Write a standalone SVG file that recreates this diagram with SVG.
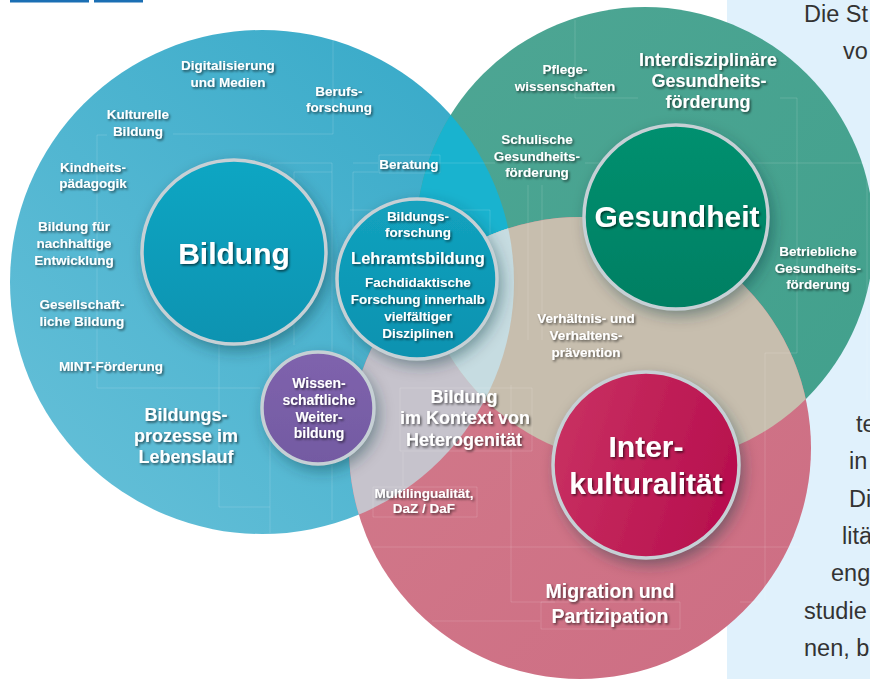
<svg xmlns="http://www.w3.org/2000/svg" width="870" height="679" viewBox="0 0 870 679">
<defs>
<style>
.t{font-family:"Liberation Sans",Arial,sans-serif;font-weight:bold;fill:#fff;text-anchor:middle;filter:url(#ts)}
.s{font-size:13.5px}
.m{font-size:18px}
.b{font-size:30px}
.p{font-family:"Liberation Sans",Arial,sans-serif;font-size:23.5px;fill:#333}
.ln{fill:none;stroke:#fff;stroke-opacity:.14;stroke-width:1}
.ring{stroke:#c6d0d5;stroke-width:3.5}
</style>
<filter id="ts" x="-10%" y="-40%" width="130%" height="190%">
<feDropShadow dx="1.4" dy="1.6" stdDeviation="1.1" flood-color="#000" flood-opacity="0.6"/>
</filter>
<filter id="cs" x="-40%" y="-40%" width="180%" height="180%">
<feDropShadow dx="4" dy="6" stdDeviation="8" flood-color="#10303a" flood-opacity="0.45"/>
</filter>
<linearGradient id="gBlue" x1="0" y1="1" x2="1" y2="0">
<stop offset="0" stop-color="#68c1d9"/><stop offset="1" stop-color="#34a8c7"/>
</linearGradient>
<linearGradient id="gGreen" x1="0" y1="0" x2="1" y2="1">
<stop offset="0" stop-color="#4ea694"/><stop offset="1" stop-color="#41a08c"/>
</linearGradient>
<linearGradient id="gPink" x1="0" y1="0" x2="1" y2="1">
<stop offset="0" stop-color="#d27b8b"/><stop offset="1" stop-color="#cd6d83"/>
</linearGradient>
<linearGradient id="gBil" x1="0" y1="0" x2="0" y2="1">
<stop offset="0" stop-color="#07a6c3"/><stop offset="1" stop-color="#0a93b1"/>
</linearGradient>
<linearGradient id="gLeh" x1="0" y1="0" x2="0" y2="1">
<stop offset="0" stop-color="#13a2be"/><stop offset="1" stop-color="#0a92b0"/>
</linearGradient>
<linearGradient id="gGes" x1="0" y1="0" x2="0" y2="1">
<stop offset="0" stop-color="#00906f"/><stop offset="1" stop-color="#007f63"/>
</linearGradient>
<linearGradient id="gInt" x1="0" y1="0" x2="1" y2="0.3">
<stop offset="0" stop-color="#ca3463"/><stop offset="1" stop-color="#b8114f"/>
</linearGradient>
<linearGradient id="gPur" x1="0" y1="0" x2="0" y2="1">
<stop offset="0" stop-color="#7f63ad"/><stop offset="1" stop-color="#735aa2"/>
</linearGradient>
<clipPath id="cBlue"><circle cx="262" cy="282" r="252"/></clipPath>
<clipPath id="cGreen"><circle cx="645" cy="236" r="229"/></clipPath>
</defs>

<rect x="727" y="0" width="143" height="679" fill="#e0f1fc"/>
<rect x="10" y="0" width="79" height="2.5" fill="#1b6fb4"/>
<rect x="94" y="0" width="49" height="2.5" fill="#1b6fb4"/>

<g id="areas">
<circle cx="262" cy="282" r="252" fill="url(#gBlue)"/>
<circle cx="645" cy="236" r="229" fill="url(#gGreen)"/>
<circle cx="580" cy="448" r="231" fill="url(#gPink)"/>
<circle cx="645" cy="236" r="229" fill="#19b3cf" clip-path="url(#cBlue)"/>
<circle cx="580" cy="448" r="231" fill="#c6c3cc" clip-path="url(#cBlue)"/>
<circle cx="580" cy="448" r="231" fill="#c7beae" clip-path="url(#cGreen)"/>
<g clip-path="url(#cBlue)"><circle cx="580" cy="448" r="231" fill="#c6dce1" clip-path="url(#cGreen)"/></g>
</g>

<g id="guides">
<path class="ln" d="M333 40V134H173M107 135H97V388H260M270 163H332M353 163H378M294 172H332M353 172H378M270 163V533M294 172V345M332 163V520M353 172V363M350 210H490V240M219 340V507H270M379 155H440V173H379Z"/>
<path class="ln" d="M575 20V98H638M780 98H797V353H765V600M740 547H800M740 602H760M435 163H495M585 163H867V400M528 185V340M542 185V340"/>
<path class="ln" d="M373 547H740M511 385V602H555M432 621H540M373 487H477V517H373ZM400 388H532V451H400ZM403 452V486M541 602H680V629H541Z"/>
</g>

<g id="node-bildung">
<circle cx="234" cy="252" r="92" fill="url(#gBil)" filter="url(#cs)"/>
<circle cx="234" cy="252" r="92" fill="none" class="ring"/>
<text class="t b" x="234" y="264">Bildung</text>
</g>

<g id="node-lehramt">
<circle cx="417" cy="279" r="80" fill="url(#gLeh)" filter="url(#cs)"/>
<circle cx="417" cy="279" r="80" fill="none" class="ring"/>
<text class="t s" x="418" y="221">Bildungs-</text>
<text class="t s" x="418" y="237">forschung</text>
<text class="t" x="418" y="264" style="font-size:16.5px">Lehramtsbildung</text>
<text class="t s" x="418" y="287">Fachdidaktische</text>
<text class="t s" x="418" y="304">Forschung innerhalb</text>
<text class="t s" x="418" y="321">vielfältiger</text>
<text class="t s" x="418" y="338">Disziplinen</text>
</g>

<g id="node-weiterbildung">
<circle cx="318" cy="408" r="56" fill="url(#gPur)" filter="url(#cs)"/>
<circle cx="318" cy="408" r="56" fill="none" class="ring"/>
<text class="t" style="font-size:14px" x="319" y="388">Wissen-</text>
<text class="t" style="font-size:14px" x="319" y="405">schaftliche</text>
<text class="t" style="font-size:14px" x="319" y="422">Weiter-</text>
<text class="t" style="font-size:14px" x="319" y="438">bildung</text>
</g>

<g id="node-gesundheit">
<circle cx="676" cy="217" r="92" fill="url(#gGes)" filter="url(#cs)"/>
<circle cx="676" cy="217" r="92" fill="none" class="ring"/>
<text class="t b" x="677" y="227">Gesundheit</text>
</g>

<g id="node-interkulturalitaet">
<circle cx="646" cy="465" r="93" fill="url(#gInt)" filter="url(#cs)"/>
<circle cx="646" cy="465" r="93" fill="none" class="ring"/>
<text class="t b" x="646" y="457">Inter-</text>
<text class="t b" x="646" y="494">kulturalität</text>
</g>

<g id="labels-bildung">
<text class="t s" x="228" y="70">Digitalisierung</text>
<text class="t s" x="228" y="87">und Medien</text>
<text class="t s" x="339" y="96">Berufs-</text>
<text class="t s" x="339" y="112">forschung</text>
<text class="t s" x="138" y="119">Kulturelle</text>
<text class="t s" x="138" y="136">Bildung</text>
<text class="t s" x="93" y="172">Kindheits-</text>
<text class="t s" x="93" y="188">pädagogik</text>
<text class="t s" x="74" y="231">Bildung für</text>
<text class="t s" x="74" y="248">nachhaltige</text>
<text class="t s" x="74" y="265">Entwicklung</text>
<text class="t s" x="82" y="309">Gesellschaft-</text>
<text class="t s" x="82" y="326">liche Bildung</text>
<text class="t s" x="111" y="371">MINT-Förderung</text>
<text class="t m" x="186" y="421">Bildungs-</text>
<text class="t m" x="186" y="442">prozesse im</text>
<text class="t m" x="186" y="463">Lebenslauf</text>
<text class="t s" x="409" y="169">Beratung</text>
</g>

<g id="labels-overlap">
<text class="t m" x="464" y="403">Bildung</text>
<text class="t m" x="465" y="424">im Kontext von</text>
<text class="t m" x="464" y="446">Heterogenität</text>
<text class="t s" x="424" y="498">Multilingualität,</text>
<text class="t s" x="424" y="513">DaZ / DaF</text>
<text class="t s" x="586" y="323">Verhältnis- und</text>
<text class="t s" x="586" y="340">Verhaltens-</text>
<text class="t s" x="586" y="357">prävention</text>
</g>

<g id="labels-gesundheit">
<text class="t s" x="565" y="74">Pflege-</text>
<text class="t s" x="565" y="91">wissenschaften</text>
<text class="t m" x="708" y="66">Interdisziplinäre</text>
<text class="t m" x="709" y="87">Gesundheits-</text>
<text class="t m" x="708" y="108">förderung</text>
<text class="t s" x="537" y="144">Schulische</text>
<text class="t s" x="537" y="161">Gesundheits-</text>
<text class="t s" x="537" y="177">förderung</text>
<text class="t s" x="818" y="256">Betriebliche</text>
<text class="t s" x="818" y="273">Gesundheits-</text>
<text class="t s" x="818" y="289">förderung</text>
</g>

<g id="labels-interkulturalitaet">
<text class="t" style="font-size:19.5px" x="610" y="598">Migration und</text>
<text class="t" style="font-size:19.5px" x="610" y="623">Partizipation</text>
</g>

<g id="panel-text">
<text class="p" x="804" y="22">Die St</text>
<text class="p" x="843" y="59">vo</text>
<text class="p" x="856" y="432">te</text>
<text class="p" x="849" y="469">in</text>
<text class="p" x="849" y="507">Di</text>
<text class="p" x="842" y="544">litä</text>
<text class="p" x="831" y="581">eng</text>
<text class="p" x="804" y="619">studie</text>
<text class="p" x="804" y="656">nen, b</text>
</g>
</svg>
